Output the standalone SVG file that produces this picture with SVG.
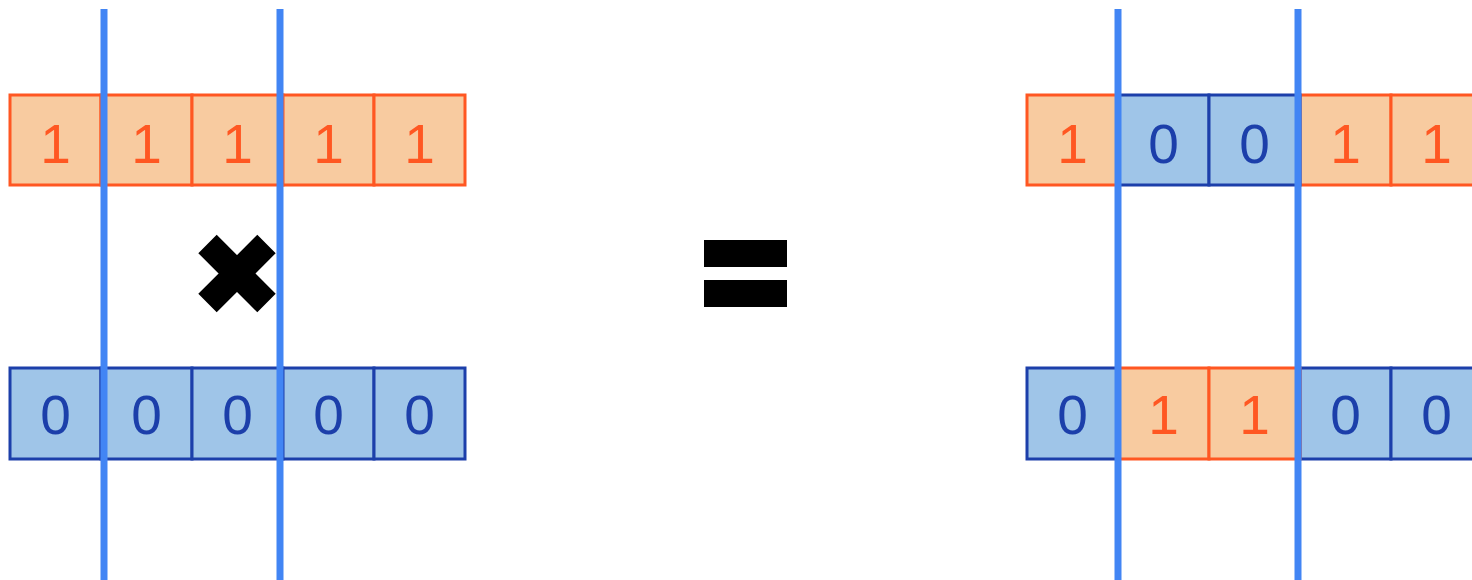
<svg xmlns="http://www.w3.org/2000/svg" width="1472" height="580" viewBox="0 0 1472 580">
<style>
.o{fill:#F8CBA0;stroke:#FF5722;stroke-width:3}
.b{fill:#9FC5E8;stroke:#1C3FAA;stroke-width:3}
.to{fill:#FF5722;font-family:"Liberation Sans",Arial,sans-serif;font-size:55px;text-anchor:middle}
.tb{fill:#1C3FAA;font-family:"Liberation Sans",Arial,sans-serif;font-size:55px;text-anchor:middle}
.cut{stroke:#4285F4;stroke-width:7}
</style>
<rect width="1472" height="580" fill="#fff"/>
<g id="left-top">
<rect class="o" x="10" y="95" width="91" height="90"/><text class="to" x="55.5" y="163">1</text>
<rect class="o" x="101" y="95" width="91" height="90"/><text class="to" x="146.5" y="163">1</text>
<rect class="o" x="192" y="95" width="91" height="90"/><text class="to" x="237.5" y="163">1</text>
<rect class="o" x="283" y="95" width="91" height="90"/><text class="to" x="328.5" y="163">1</text>
<rect class="o" x="374" y="95" width="91" height="90"/><text class="to" x="419.5" y="163">1</text>
</g>
<g id="left-bottom">
<rect class="b" x="10" y="368" width="91" height="91"/><text class="tb" x="55.5" y="434">0</text>
<rect class="b" x="101" y="368" width="91" height="91"/><text class="tb" x="146.5" y="434">0</text>
<rect class="b" x="192" y="368" width="91" height="91"/><text class="tb" x="237.5" y="434">0</text>
<rect class="b" x="283" y="368" width="91" height="91"/><text class="tb" x="328.5" y="434">0</text>
<rect class="b" x="374" y="368" width="91" height="91"/><text class="tb" x="419.5" y="434">0</text>
</g>
<g id="right-top">
<rect class="o" x="1027" y="95" width="91" height="90"/><text class="to" x="1072.5" y="163">1</text>
<rect class="o" x="1300" y="95" width="91" height="90"/><text class="to" x="1345.5" y="163">1</text>
<rect class="o" x="1391" y="95" width="91" height="90"/><text class="to" x="1436.5" y="163">1</text>
<rect class="b" x="1118" y="95" width="91" height="90"/><text class="tb" x="1163.5" y="163">0</text>
<rect class="b" x="1209" y="95" width="91" height="90"/><text class="tb" x="1254.5" y="163">0</text>
</g>
<g id="right-bottom">
<rect class="b" x="1027" y="368" width="91" height="91"/><text class="tb" x="1072.5" y="434">0</text>
<rect class="b" x="1300" y="368" width="91" height="91"/><text class="tb" x="1345.5" y="434">0</text>
<rect class="b" x="1391" y="368" width="91" height="91"/><text class="tb" x="1436.5" y="434">0</text>
<rect class="o" x="1118" y="368" width="91" height="91"/><text class="to" x="1163.5" y="434">1</text>
<rect class="o" x="1209" y="368" width="91" height="91"/><text class="to" x="1254.5" y="434">1</text>
</g>
<g id="times">
<path d="M207.5 244 L266.5 303 M266.5 244 L207.5 303" stroke="#000" stroke-width="26" fill="none"/>
</g>
<g id="equals">
<rect x="704" y="240" width="83" height="27" fill="#000"/>
<rect x="704" y="280" width="83" height="27" fill="#000"/>
</g>
<g id="cut-lines">
<line class="cut" x1="104" y1="9" x2="104" y2="580"/>
<line class="cut" x1="280" y1="9" x2="280" y2="580"/>
<line class="cut" x1="1118" y1="9" x2="1118" y2="580"/>
<line class="cut" x1="1298" y1="9" x2="1298" y2="580"/>
</g>
</svg>
